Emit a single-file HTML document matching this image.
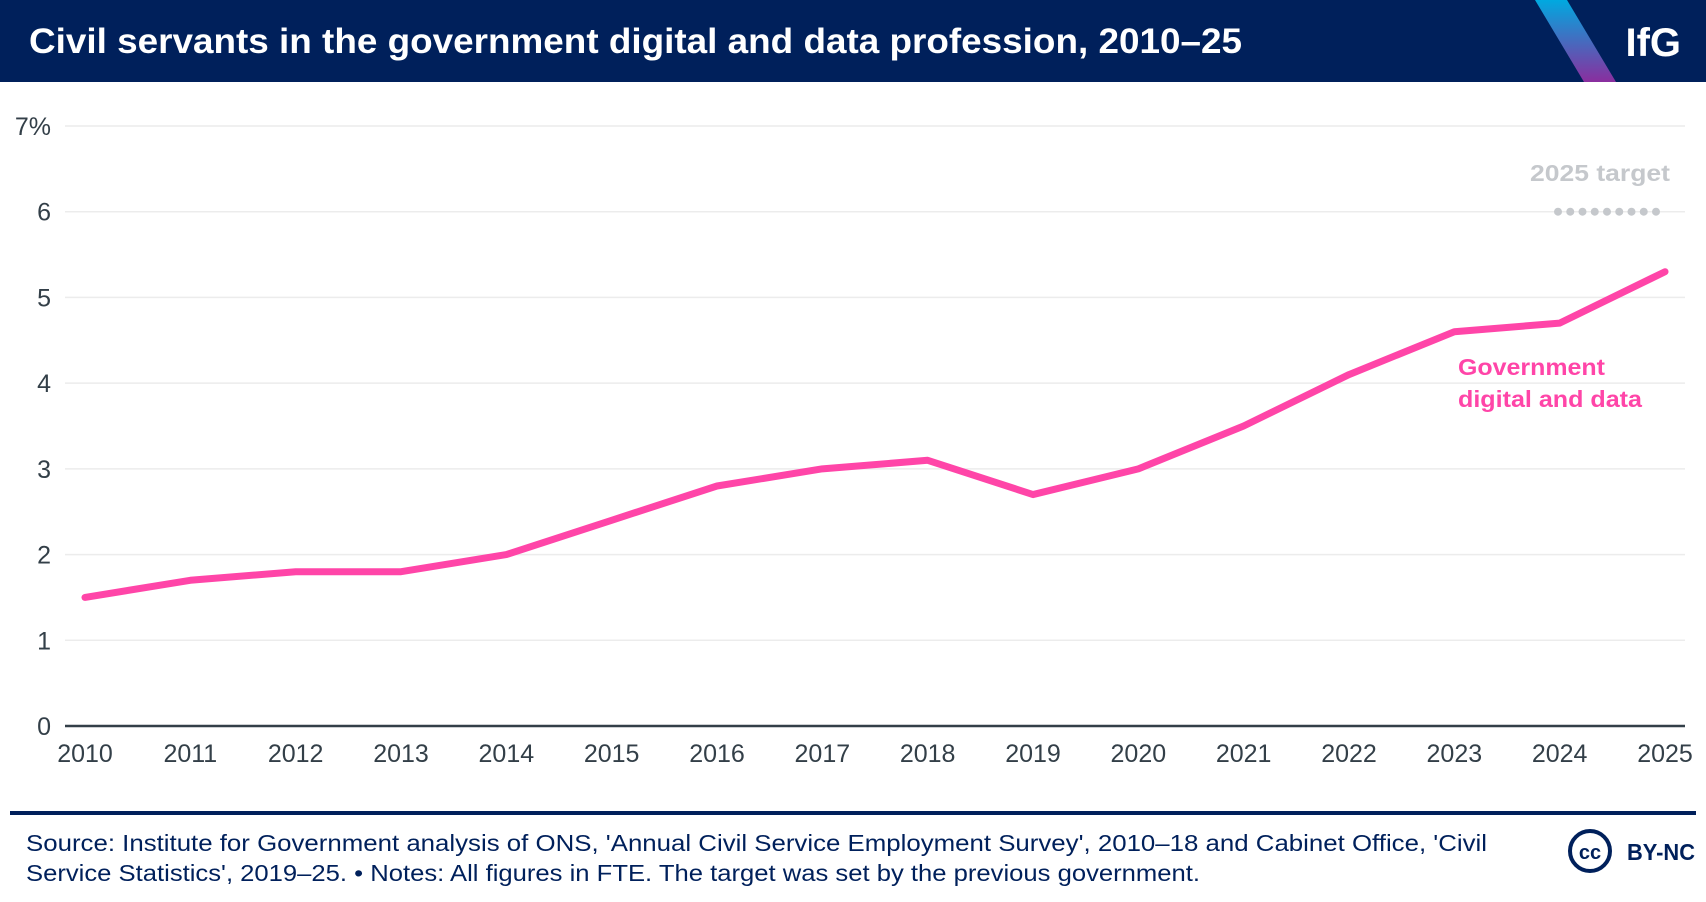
<!DOCTYPE html>
<html><head><meta charset="utf-8"><style>
body{margin:0;width:1706px;height:902px;background:#fff;font-family:"Liberation Sans",sans-serif;overflow:hidden}
svg{display:block}
</style></head><body>
<svg width="1706" height="902">
<defs><linearGradient id="g" x1="0" y1="0" x2="0" y2="1"><stop offset="0" stop-color="#00a9e0"/><stop offset="1" stop-color="#8a2e9e"/></linearGradient></defs>
<rect x="0" y="0" width="1706" height="82" fill="#00205b"/>
<polygon points="1535,0 1567,0 1616,82 1584,82" fill="url(#g)"/>
<text x="29" y="53" font-size="35" font-weight="bold" fill="#fff" textLength="1213" lengthAdjust="spacingAndGlyphs">Civil servants in the government digital and data profession, 2010–25</text>
<text x="1681" y="56" font-size="40" font-weight="bold" fill="#fff" text-anchor="end">IfG</text>
<g id="grid"></g><g id="xt"></g>
<text x="1530" y="181" font-size="23" font-weight="bold" fill="#c5c8cc" textLength="140" lengthAdjust="spacingAndGlyphs">2025 target</text>
<g id="dots"></g>
<path id="line" fill="none" stroke="#ff45a8" stroke-width="7" stroke-linejoin="round" stroke-linecap="round"/>
<text font-size="23" font-weight="bold" fill="#ff45a8"><tspan x="1458" y="375" textLength="147" lengthAdjust="spacingAndGlyphs">Government</tspan><tspan x="1458" y="407" textLength="184" lengthAdjust="spacingAndGlyphs">digital and data</tspan></text>
<rect x="10" y="811" width="1686" height="4" fill="#00205b"/>
<text font-size="23" fill="#00205b"><tspan x="26" y="851" textLength="1461" lengthAdjust="spacingAndGlyphs">Source: Institute for Government analysis of ONS, 'Annual Civil Service Employment Survey', 2010–18 and Cabinet Office, 'Civil</tspan><tspan x="26" y="881" textLength="1174" lengthAdjust="spacingAndGlyphs">Service Statistics', 2019–25. • Notes: All figures in FTE. The target was set by the previous government.</tspan></text>
<circle cx="1590" cy="851" r="20" fill="#fff" stroke="#00205b" stroke-width="4"/>
<text x="1590" y="859" font-size="20" font-weight="bold" fill="#00205b" text-anchor="middle">cc</text>
<text x="1627" y="860" font-size="23" font-weight="bold" fill="#00205b" textLength="68" lengthAdjust="spacingAndGlyphs">BY-NC</text>
</svg>
<script>
const years=[2010,2011,2012,2013,2014,2015,2016,2017,2018,2019,2020,2021,2022,2023,2024,2025];
const values=[1.5,1.7,1.8,1.8,2.0,2.4,2.8,3.0,3.1,2.7,3.0,3.5,4.1,4.6,4.7,5.3];
const yTicks=[0,1,2,3,4,5,6,7];
const yTickLabels=["0","1","2","3","4","5","6","7%"];
const target=6;
const NS="http://www.w3.org/2000/svg";
const X=y=>85+(y-2010)*(1665-85)/15;
const Y=v=>726-v*(726-126)/7;
function mk(t,a,p){const e=document.createElementNS(NS,t);for(const k in a)e.setAttribute(k,a[k]);p.appendChild(e);return e;}
const grid=document.getElementById('grid');
yTicks.forEach((t,i)=>{
 const l=mk('line',{x1:65,x2:1685,y1:Y(t),y2:Y(t),stroke:t===0?'#333f48':'#ececec','stroke-width':t===0?2.5:1.5},grid);
 
 
 const tx=mk('text',{x:51,y:Y(t)+9,'font-size':25,fill:'#333f48','text-anchor':'end'},grid);
 tx.textContent=yTickLabels[i];
 
 
});
const xt=document.getElementById('xt');
years.forEach(y=>{
 const tx=mk('text',{x:X(y),y:762,'font-size':25,fill:'#333f48','text-anchor':'middle'},xt);
 tx.textContent=y;
 
 
});
const dots=document.getElementById('dots');
for(let i=0;i<9;i++){
 const c=mk('circle',{cx:1558+i*12.25,cy:Y(target),r:4,fill:'#c5c8cc'},dots);
 
 
}
document.getElementById('line').setAttribute('d',values.map((v,i)=>(i?'L':'M')+X(years[i])+','+Y(v)).join(''));
</script>
</body></html>
